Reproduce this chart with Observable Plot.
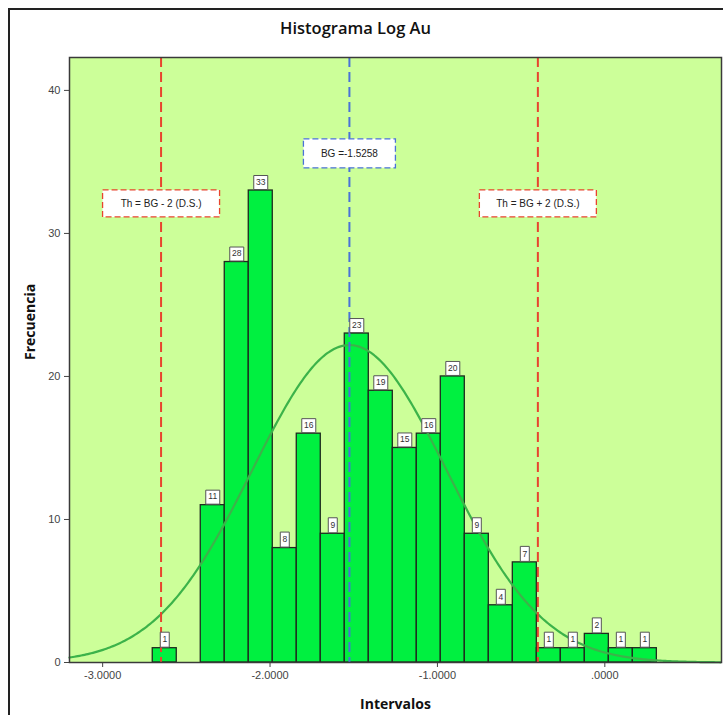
<!DOCTYPE html>
<html><head><meta charset="utf-8">
<script src="https://cdn.jsdelivr.net/npm/d3@7"></script>
<script src="https://cdn.jsdelivr.net/npm/@observablehq/plot@0.6"></script>
<style>
body{margin:0;background:#fff;overflow:hidden;}
#wrap{position:relative;width:723px;height:715px;overflow:hidden;}
#border{position:absolute;left:8px;top:8px;width:800px;height:800px;border:2px solid #222;pointer-events:none;}
</style></head><body><div id="wrap"><div id="chart"></div><div id="border"></div></div>
<script>
// ---- data ----
const counts = [1, 0, 11, 28, 33, 8, 16, 9, 23, 19, 15, 16, 20, 9, 4, 7, 1, 1, 2, 1, 1];
const binStart = -2.7007;
const binWidth = 0.1434;
const xTicks = [-3, -2, -1, 0];
const yTicks = [0, 10, 20, 30, 40];
const bgValue = -1.5258;
const thresholds = [-2.651, -0.400];
const thLabels = ["Th = BG - 2 (D.S.)", "Th = BG + 2 (D.S.)"];
const bgLabel = "BG =-1.5258";
const bgLabelY = 35.6;
const thLabelY = 32.1;
// normal curve parameters (fit overlay)
const curveMean = -1.5258, curveSD = 0.58, curveN = 225;
const xDomain = [-3.198, 0.697];
const yDomain = [0, 42.3];

const bins = counts.map((c, i) => ({x1: binStart + i * binWidth, x2: binStart + (i + 1) * binWidth, count: c}));
const nonEmpty = bins.filter(d => d.count > 0).map(d => ({...d, xm: (d.x1 + d.x2) / 2}));
const curve = d3.range(xDomain[0], xDomain[1] + 0.001, 0.01).map(x => ({
  x, y: curveN * binWidth / (curveSD * Math.sqrt(2 * Math.PI)) * Math.exp(-((x - curveMean) ** 2) / (2 * curveSD ** 2))
}));

const box = (w, h) => ({draw(ctx) {
  ctx.moveTo(-w / 2, -h / 2); ctx.lineTo(w / 2, -h / 2); ctx.lineTo(w / 2, h / 2); ctx.lineTo(-w / 2, h / 2); ctx.closePath();
}});

const sans = "Liberation Sans, Arial, sans-serif";
const head = "Open Sans, Lato, sans-serif";

const chart = Plot.plot({
  width: 723, height: 715,
  marginTop: 57, marginBottom: 53, marginLeft: 69, marginRight: 2,
  style: {fontFamily: sans, fontSize: "11px", color: "#444", background: "white"},
  x: {domain: xDomain, ticks: xTicks, tickFormat: d => d === 0 ? ".0000" : d.toFixed(4), label: null, tickSize: 5},
  y: {domain: yDomain, ticks: yTicks, label: null, tickSize: 5},
  marks: [
    Plot.frame({fill: "#ccff99"}),
    Plot.rectY(bins.filter(d => d.count > 0), {x1: "x1", x2: "x2", y: "count", fill: "#00f040", stroke: "#1e2a1e", strokeWidth: 1.3}),
    Plot.line(curve, {x: "x", y: "y", stroke: "#3cb34a", strokeWidth: 2.2}),
    Plot.ruleX(thresholds, {stroke: "#e8442e", strokeWidth: 2, strokeDasharray: "10,5"}),
    Plot.ruleX([bgValue], {stroke: "#4a72d8", strokeWidth: 2, strokeDasharray: "10,5"}),
    Plot.dot(nonEmpty.filter(d => d.count < 10), {x: "xm", y: "count", dy: -8.5, symbol: box(9, 15), fill: "white", stroke: "#555", strokeWidth: 1}),
    Plot.dot(nonEmpty.filter(d => d.count >= 10), {x: "xm", y: "count", dy: -8, symbol: box(14, 14), fill: "white", stroke: "#555", strokeWidth: 1}),
    Plot.text(nonEmpty, {x: "xm", y: "count", dy: -8.5, text: d => String(d.count), fontSize: 8.5, fill: "#333"}),
    Plot.dot([bgValue], {x: d => d, y: () => bgLabelY, symbol: box(92, 29), fill: "white", stroke: "#4a72d8", strokeWidth: 1.3, strokeDasharray: "6,3"}),
    Plot.text([bgValue], {x: d => d, y: () => bgLabelY, text: () => bgLabel, fontSize: 10, fill: "#222"}),
    Plot.dot(thresholds, {x: d => d, y: () => thLabelY, symbol: box(117, 27), fill: "white", stroke: "#e8442e", strokeWidth: 1.3, strokeDasharray: "6,3"}),
    Plot.text(thresholds, {x: d => d, y: () => thLabelY, text: (d, i) => thLabels[i], fontSize: 10, fill: "#222"}),
    Plot.frame({stroke: "#3a3a3a", strokeWidth: 1.5}),
    Plot.text(["Histograma Log Au"], {text: d => d, frameAnchor: "top", dx: -40, dy: -35, fontSize: 16.5, fontWeight: 600, fontFamily: head, fill: "#111"}),
    Plot.text(["Intervalos"], {text: d => d, frameAnchor: "bottom", dy: 46, fontSize: 14, fontWeight: "bold", fontFamily: head, fill: "#111"}),
    Plot.text(["Frecuencia"], {text: d => d, frameAnchor: "left", dx: -39, rotate: -90, fontSize: 14, fontWeight: "bold", fontFamily: head, fill: "#111"})
  ]
});
document.getElementById("chart").appendChild(chart);
</script></body></html>
